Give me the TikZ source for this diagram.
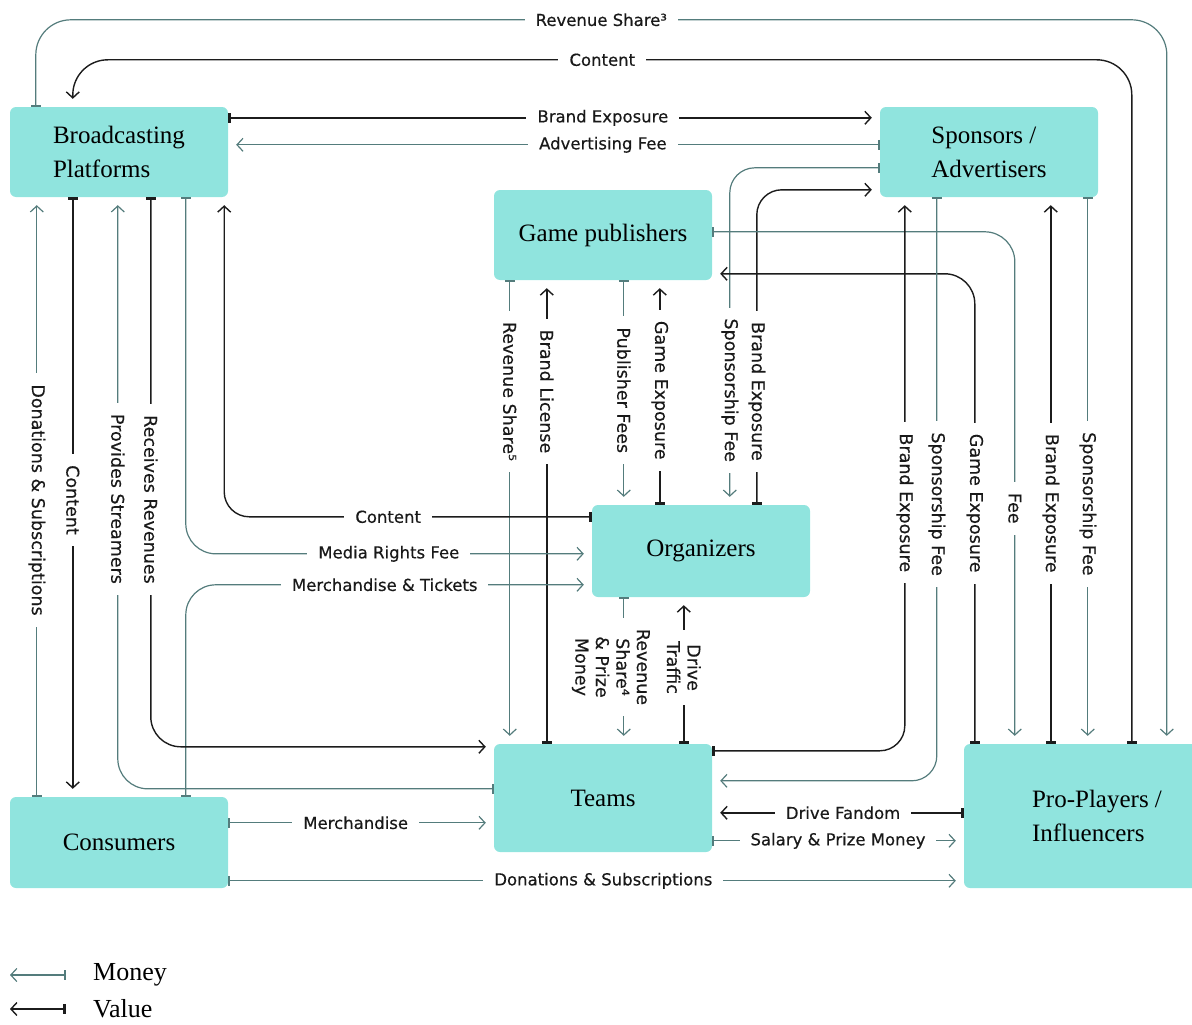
\documentclass[tikz,border=0pt]{standalone}
\usepackage{fontspec}
\setmainfont{Liberation Serif}
\newfontfamily\lblfont[FakeBold=0.4]{DejaVu Sans}
\usetikzlibrary{arrows.meta}

\definecolor{boxcol}{RGB}{144,228,222}
\definecolor{moneycol}{RGB}{84,124,124}
\definecolor{valuecol}{RGB}{28,28,28}

\tikzset{
  party/.style={fill=boxcol, rounded corners=6pt, inner sep=0pt, align=left,
    font=\fontsize{25}{34}\selectfont},
  moneyflow/.style={draw=moneycol, line width=1.2pt, shorten >=8pt,
    {Bar[width=10pt,line width=1.8pt]}-{Straight Barb[length=6pt,width=13pt]}},
  valueflow/.style={draw=valuecol, line width=1.4pt, shorten >=8pt,
    {Bar[width=10pt,line width=3pt]}-{Straight Barb[length=6pt,width=13pt]}},
  lbl/.style={fill=white, sharp corners, inner xsep=11pt, inner ysep=1pt, text=black!90,
    font=\lblfont\fontsize{16.5}{20}\selectfont, align=center},
  vlbl/.style={lbl, rotate=-90, font=\lblfont\fontsize{17.5}{20.5}\selectfont},
  keytext/.style={anchor=west, inner sep=0pt, font=\fontsize{26}{30}\selectfont}
}

\begin{document}
\begin{tikzpicture}[x=1pt, y=-1pt]
	\useasboundingbox (0,0) rectangle (1192,1025);

	% the parties
	\node[party, minimum width=218pt, minimum height=90pt] (bp) at (119,152) {Broadcasting\\Platforms};
	\node[party, minimum width=218pt, minimum height=90pt] (sp) at (989,152) {Sponsors /\\Advertisers};
	\node[party, minimum width=218pt, minimum height=90pt] (gp) at (603,235) {Game publishers};
	\node[party, minimum width=218pt, minimum height=92pt] (org) at (701,551) {Organizers};
	\node[party, minimum width=218pt, minimum height=108pt] (tm) at (603,798) {Teams};
	\node[party, minimum width=218pt, minimum height=91pt] (cs) at (119,842.5) {Consumers};
	\node[party, minimum width=266pt, minimum height=144pt] (pp) at (1097,816) {Pro-Players /\\Influencers};

	% top rails
	\draw[moneyflow, rounded corners=35pt] ([xshift=26pt]bp.north west) -- ++(0,-87)
		-| node[lbl, pos=0.25] {Revenue Share³} ([xshift=203pt]pp.north west);
	\draw[valueflow, rounded corners=35pt] ([xshift=168pt]pp.north west) -- ++(0,-684)
		-| node[lbl, pos=0.25] {Content} ([xshift=63pt]bp.north west);

	\draw[valueflow] ([yshift=-11pt]bp.north east) -- node[lbl, pos=0.575] {Brand Exposure} ([yshift=-11pt]sp.north west);
	\draw[moneyflow] ([yshift=-38pt]sp.north west) -- node[lbl, pos=0.425] {Advertising Fee} ([yshift=-38pt]bp.north east);

	% sponsors and organizers
	\draw[moneyflow, rounded corners=25pt] ([yshift=-61pt]sp.north west)
		-| node[vlbl, pos=0.83] {Sponsorship Fee} ([xshift=138pt]org.north west);
	\draw[valueflow, rounded corners=25pt] ([xshift=165pt]org.north west)
		|- node[vlbl, pos=0.18] {Brand Exposure} ([yshift=-83pt]sp.north west);

	% publishers and players
	\draw[moneyflow, rounded corners=30pt] ([yshift=-42pt]gp.north east)
		-| node[vlbl, pos=0.77] {Fee} ([xshift=51pt]pp.north west);
	\draw[valueflow, rounded corners=30pt] ([xshift=11pt]pp.north west)
		|- node[vlbl, pos=0.256] {Game Exposure} ([yshift=-84pt]gp.north east);

	% sponsors, teams and players
	\draw[valueflow, rounded corners=25pt] ([yshift=-7pt]tm.north east)
		-| node[vlbl, pos=0.724] {Brand Exposure} ([xshift=25pt]sp.south west);
	\draw[moneyflow, rounded corners=25pt] ([xshift=57pt]sp.south west)
		|- node[vlbl, pos=0.263] {Sponsorship Fee} ([yshift=-37pt]tm.north east);
	\draw[valueflow] ([xshift=87pt]pp.north west) -- node[vlbl, pos=0.44] {Brand Exposure} ([xshift=171pt]sp.south west);
	\draw[moneyflow] ([xshift=208pt]sp.south west) -- node[vlbl, pos=0.561] {Sponsorship Fee} ([xshift=124pt]pp.north west);

	% under the publishers
	\draw[moneyflow] ([xshift=16pt]gp.south west) -- node[vlbl, pos=0.24] {Revenue Share⁵} ([xshift=16pt]tm.north west);
	\draw[valueflow] ([xshift=53pt]tm.north west) -- node[vlbl, pos=0.76] {Brand License} ([xshift=53pt]gp.south west);
	\draw[moneyflow] ([xshift=130pt]gp.south west) -- node[vlbl, pos=0.49] {Publisher Fees} ([xshift=32pt]org.north west);
	\draw[valueflow] ([xshift=68pt]org.north west) -- node[vlbl, pos=0.51] {Game Exposure} ([xshift=166pt]gp.south west);

	% organizers and teams
	\draw[moneyflow] ([xshift=32pt]org.south west) -- node[vlbl, pos=0.476, yshift=-13pt] {Revenue\\Share⁴\\\& Prize\\Money} ([xshift=130pt]tm.north west);
	\draw[valueflow] ([xshift=190pt]tm.north west) -- node[vlbl, pos=0.52] {Drive\\Traffic} ([xshift=92pt]org.south west);

	% left of the organizers
	\draw[valueflow, rounded corners=25pt] ([yshift=-12pt]org.north west)
		-| node[lbl, pos=0.277] {Content} ([xshift=-4pt]bp.south east);
	\draw[moneyflow, rounded corners=30pt] ([xshift=176pt]bp.south west)
		|- node[lbl, pos=0.75] {Media Rights Fee} ([yshift=-49pt]org.north west);
	\draw[moneyflow, rounded corners=30pt] ([xshift=176pt]cs.north west)
		|- node[lbl, pos=0.745] {Merchandise \& Tickets} ([yshift=-80pt]org.north west);

	% under the platforms
	\draw[moneyflow] ([xshift=27pt]cs.north west) -- node[vlbl, pos=0.495] {Donations \& Subscriptions} ([xshift=27pt]bp.south west);
	\draw[valueflow] ([xshift=63pt]bp.south west) -- node[vlbl, pos=0.505] {Content} ([xshift=63pt]cs.north west);
	\draw[moneyflow, rounded corners=30pt] ([yshift=-45pt]tm.north west)
		-| node[vlbl, pos=0.745] {Provides Streamers} ([xshift=108pt]bp.south west);
	\draw[valueflow, rounded corners=30pt] ([xshift=141pt]bp.south west)
		|- node[vlbl, pos=0.275] {Receives Revenues} ([yshift=-3pt]tm.north west);

	% bottom row
	\draw[moneyflow] ([yshift=-26pt]cs.north east) -- node[lbl, pos=0.48] {Merchandise} ([yshift=-79pt]tm.north west);
	\draw[valueflow] ([yshift=-69pt]pp.north west) -- node[lbl, pos=0.48] {Drive Fandom} ([yshift=-69pt]tm.north east);
	\draw[moneyflow] ([yshift=-97pt]tm.north east) -- node[lbl, pos=0.5] {Salary \& Prize Money} ([yshift=-97pt]pp.north west);
	\draw[moneyflow] ([yshift=-84pt]cs.north east) -- node[lbl, pos=0.51] {Donations \& Subscriptions} ([yshift=-137pt]pp.north west);

	% key
	\node[keytext] (kmoney) at (93,975) {Money};
	\node[keytext] (kvalue) at (93,1009) {Value};
	\draw[moneyflow, shorten >=0pt] ([xshift=-27pt]kmoney.west) -- ([xshift=-83pt]kmoney.west);
	\draw[valueflow, shorten >=0pt] ([xshift=-27pt]kvalue.west) -- ([xshift=-83pt]kvalue.west);
\end{tikzpicture}
\end{document}
